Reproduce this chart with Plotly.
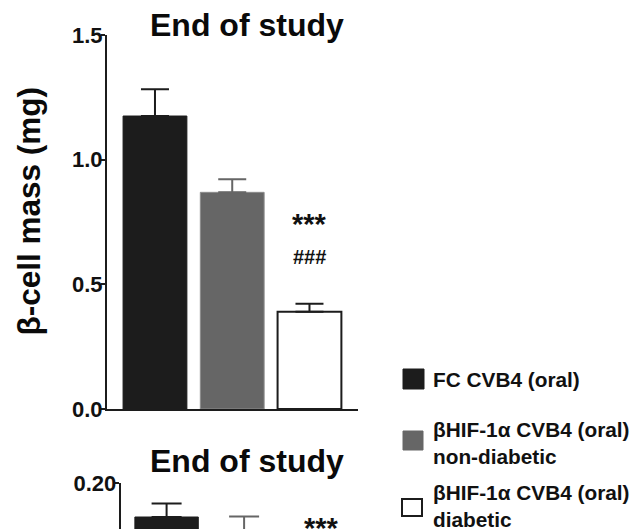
import plotly.graph_objects as go

# page offset of the figure (browser body margin)
OFF = 8
W, H = 640 - OFF, 529 - OFF
FONT = "Liberation Sans"

groups = ["FC CVB4 (oral)", "βHIF-1α CVB4 (oral) non-diabetic", "βHIF-1α CVB4 (oral) diabetic"]
legend_labels = ["FC CVB4 (oral)", "βHIF-1α CVB4 (oral)<br>non-diabetic", "βHIF-1α CVB4 (oral)<br>diabetic"]
mass_mean = [1.175, 0.869, 0.390]
mass_sem = [0.107, 0.052, 0.032]
lower_mean = [0.182, 0.168, 0.070]
lower_sem = [0.0072, 0.0143, 0.010]
top_ticks = [0.0, 0.5, 1.0, 1.5]
lower_ticks = [0.20]
title_text = "End of study"
ylabel = "β-cell mass (mg)"
sig_top = ["***", "###"]
sig_lower = ["***"]

fills = ["#1c1c1c", "#666666", "#ffffff"]
edges = ["#1c1c1c", "#8c8c8c", "#1c1c1c"]
edge_w = [1, 1, 2]
err_cols = ["#1c1c1c", "#666666", "#1c1c1c"]
AX = "#1c1c1c"


def px_x(p):
    return (p - OFF) / W


def px_y(p):
    return 1 - (p - OFF) / H


fig = go.Figure()
xs = list(range(len(groups)))
for i in xs:
    fig.add_trace(go.Bar(
        x=[xs[i]], y=[mass_mean[i]], width=0.826,
        marker=dict(color=fills[i], line=dict(color=edges[i], width=edge_w[i])),
        error_y=dict(type="data", symmetric=False, array=[mass_sem[i]], arrayminus=[0],
                     color=err_cols[i], thickness=2, width=14),
        xaxis="x", yaxis="y", showlegend=False, hoverinfo="skip"))
    fig.add_trace(go.Bar(
        x=[xs[i]], y=[lower_mean[i]], width=0.818,
        marker=dict(color=fills[i], line=dict(color=edges[i], width=edge_w[i])),
        error_y=dict(type="data", symmetric=False, array=[lower_sem[i]], arrayminus=[0],
                     color=err_cols[i], thickness=2, width=15),
        xaxis="x2", yaxis="y2", showlegend=False, hoverinfo="skip"))

tickfont = dict(family=FONT, size=22, color="#111111", weight="bold")
fig.update_layout(
    width=W, height=H, margin=dict(l=0, r=0, t=0, b=0, pad=0, autoexpand=False),
    showlegend=False,
    paper_bgcolor="white", plot_bgcolor="white",
    font=dict(family=FONT, color="#111111"),
    xaxis=dict(domain=[px_x(107), px_x(358)], range=[-0.621, 2.628], automargin=False, anchor="y",
               showline=True, linecolor=AX, linewidth=2, showticklabels=False,
               ticks="", showgrid=False, zeroline=False, fixedrange=True),
    yaxis=dict(domain=[px_y(409), px_y(35)], range=[0, 1.5], tickvals=top_ticks, automargin=False,
               anchor="x",
               tickformat=".1f", showline=True, linecolor=AX, linewidth=2,
               ticks="outside", ticklen=4, tickwidth=2, tickcolor=AX, ticklabelstandoff=-6,
               tickfont=tickfont, showgrid=False, zeroline=False, fixedrange=True),
    xaxis2=dict(domain=[px_x(120.7), px_x(372)], range=[-0.592, 2.65], automargin=False, anchor="y2",
                showline=False, showticklabels=False, ticks="", showgrid=False,
                zeroline=False, fixedrange=True),
    yaxis2=dict(domain=[0, px_y(483.3)], range=[0.1756, 0.20], tickvals=lower_ticks, automargin=False,
                anchor="x2",
                tickformat=".2f", showline=True, linecolor=AX, linewidth=2,
                ticks="outside", ticklen=4, tickwidth=2, tickcolor=AX, ticklabelstandoff=-6,
                tickfont=tickfont, showgrid=False, zeroline=False, fixedrange=True),
)

ann = []
# titles
for yc in (25, 461):
    ann.append(dict(text=f"<b>{title_text}</b>", x=px_x(247), y=px_y(yc), xref="paper", yref="paper",
                    xanchor="center", yanchor="middle", showarrow=False,
                    font=dict(family=FONT, size=32, color="#0a0a0a")))
# y label
ann.append(dict(text=f"<b>{ylabel}</b>", x=px_x(28), y=px_y(211.5), xref="paper", yref="paper",
                xanchor="center", yanchor="middle", textangle=-90, showarrow=False,
                font=dict(family=FONT, size=31.5, color="#0a0a0a")))
# significance marks
ann.append(dict(text=f"<b>{sig_top[0]}</b>", x=2, y=0.742, xref="x", yref="y", showarrow=False,
                xanchor="center", yanchor="middle", font=dict(family=FONT, size=29, color="#111111")))
ann.append(dict(text=f"<b>{sig_top[1]}</b>", x=2, y=0.608, xref="x", yref="y", showarrow=False,
                xanchor="center", yanchor="middle", font=dict(family=FONT, size=20, color="#111111")))
ann.append(dict(text=f"<b>{sig_lower[0]}</b>", x=2, y=0.1762, xref="x2", yref="y2", showarrow=False,
                xanchor="center", yanchor="middle", font=dict(family=FONT, size=29, color="#111111")))

# legend (custom)
leg_boxes = [(403, 369, 424, 389), (403, 431, 423, 450), (402, 499, 422, 516)]
leg_text_y = [380, 442.5, 506]
shapes = []
for i in range(3):
    x0, y0, x1, y1 = leg_boxes[i]
    shapes.append(dict(type="rect", xref="paper", yref="paper",
                       x0=px_x(x0), x1=px_x(x1), y0=px_y(y1), y1=px_y(y0),
                       fillcolor=fills[i], line=dict(color=edges[i] if i != 1 else fills[i], width=edge_w[i])))
    ann.append(dict(text=f"<b>{legend_labels[i]}</b>", x=px_x(431), y=px_y(leg_text_y[i]),
                    xref="paper", yref="paper", xanchor="left", yanchor="middle", align="left",
                    showarrow=False, font=dict(family=FONT, size=20.8, color="#111111")))

fig.update_layout(annotations=ann, shapes=shapes)
fig.write_html("out.html")
